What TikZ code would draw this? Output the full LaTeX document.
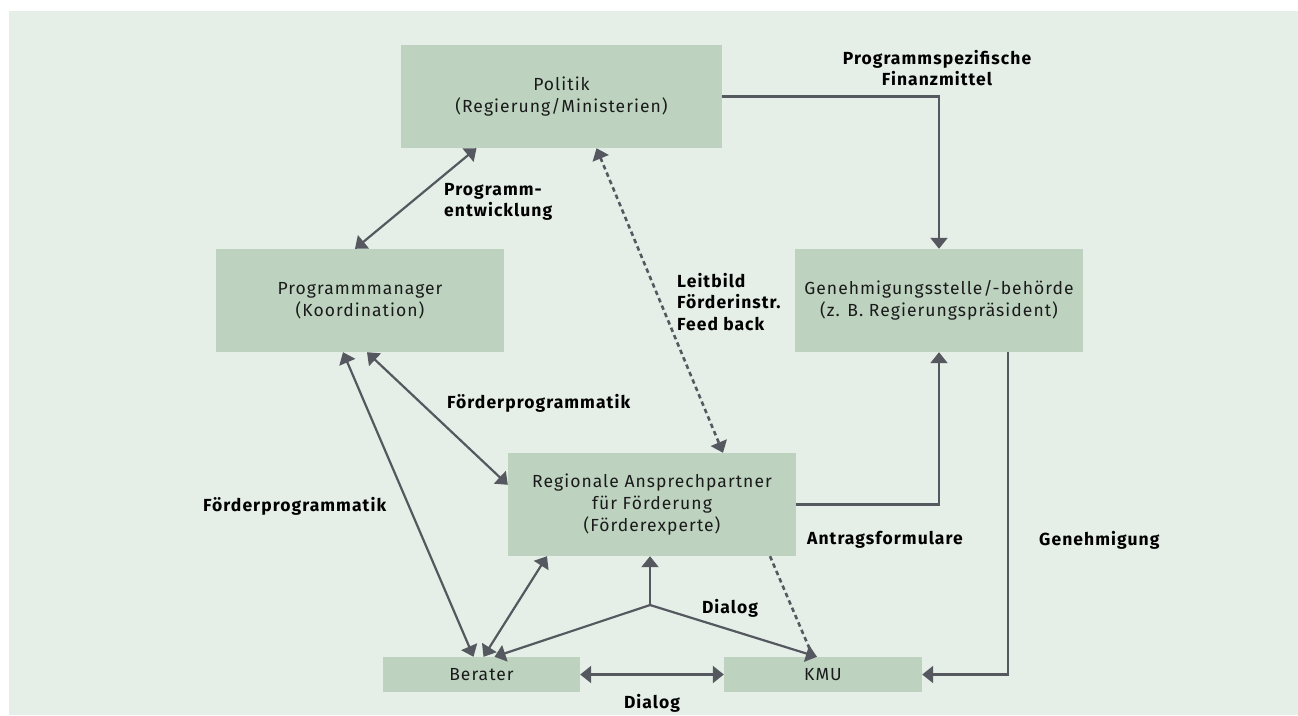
\documentclass[tikz,border=0pt]{standalone}
\usepackage{fontspec}
\setmainfont{Fira Sans}[LetterSpace=6]
\usetikzlibrary{arrows.meta,calc}
\definecolor{bgc}{HTML}{E5EEE7}
\definecolor{boxc}{HTML}{BDD3C0}
\definecolor{linec}{HTML}{55585E}
\definecolor{txtc}{HTML}{1A1A1A}
\tikzset{
  box/.style={fill=boxc, draw=none, inner sep=0pt, align=center, text=txtc,
    font=\fontsize{17.5}{22}\selectfont},
  lbl/.style={inner sep=0pt, text=black, font=\fontsize{17.5}{21.5}\selectfont\bfseries},
  conn/.style={draw=linec, line width=2.2pt},
  tip/.style={-{Triangle[length=11pt,width=17pt]}},
  dtip/.style={{Triangle[length=11pt,width=17pt]}-{Triangle[length=11pt,width=17pt]}},
  dsh/.style={line width=2.6pt, dash pattern=on 4.5pt off 3.5pt}
}
\begin{document}
\begin{tikzpicture}[x=1pt,y=-1pt]
\useasboundingbox (0,0) rectangle (1298,715);
\fill[bgc] (9,11) rectangle (1298,715);

\node[box, minimum width=321pt, minimum height=103pt] (pol) at (561.5,96.5) {Politik\\(Regierung/Ministerien)};
\node[box, minimum width=288pt, minimum height=103pt] (pm) at (360,300.5) {Programmmanager\\(Koordination)};
\node[box, minimum width=288pt, minimum height=103pt] (gen) at (939,300.5) {Genehmigungsstelle/-behörde\\(z. B. Regierungspräsident)};
\node[box, minimum width=288pt, minimum height=103pt] (reg) at (652,504.5) {Regionale Ansprechpartner\\für Förderung\\(Förderexperte)};
\node[box, minimum width=197pt, minimum height=35pt] (ber) at (481.5,674.5) {Berater};
\node[box, minimum width=198pt, minimum height=35pt] (kmu) at (823,674.5) {KMU};

\coordinate (J) at (650,605);

% connectors
\draw[conn, dtip] ([xshift=-5pt]pm.north) -- ([xshift=-85pt]pol.south);
\draw[conn, tip] (pol.east) -| (gen.north);
\draw[conn, dsh, dtip] ([xshift=35pt]pol.south) -- ([xshift=71pt]reg.north);
\draw[conn, dtip] ([xshift=7pt]pm.south) -- ([yshift=-32pt]reg.north west);
\draw[conn, dtip] ([xshift=-17pt]pm.south) -- ([xshift=-8pt]ber.north);
\draw[conn, dtip] ([xshift=2pt]ber.north) -- ([xshift=-105pt]reg.south);
\draw[conn, tip] (J) -- (reg.south -| J);
\draw[conn, tip] (J) -- ([xshift=13pt]ber.north);
\draw[conn, tip] (J) -- ([xshift=-6pt]kmu.north);
\draw[conn, dsh] ([xshift=118pt]reg.south) -- ([xshift=-10pt]kmu.north);
\draw[conn, dtip] (ber.east) -- (kmu.west);
\draw[conn, tip] (reg.east) -| (gen.south);
\draw[conn, tip] ([xshift=69pt]gen.south) |- (kmu.east);

% labels
\node[lbl, align=center] (l1) at (937,68) {Programmspezifische\\Finanzmittel};
\node[lbl, align=left, anchor=west] (l2) at (444,202) {Programm-\\entwicklung};
\node[lbl, align=left, anchor=west] (l3) at (677,302) {Leitbild\\Förderinstr.\\Feed back};
\node[lbl, anchor=west] (l4) at (447,403) {Förderprogrammatik};
\node[lbl, anchor=west] (l5) at (203,506) {Förderprogrammatik};
\node[lbl, anchor=west] (l6) at (807,540) {Antragsformulare};
\node[lbl, anchor=west] (l7) at (1039,540) {Genehmigung};
\node[lbl] (l8) at (730,608) {Dialog};
\node[lbl] (l9) at (652,703) {Dialog};
\end{tikzpicture}
\end{document}
